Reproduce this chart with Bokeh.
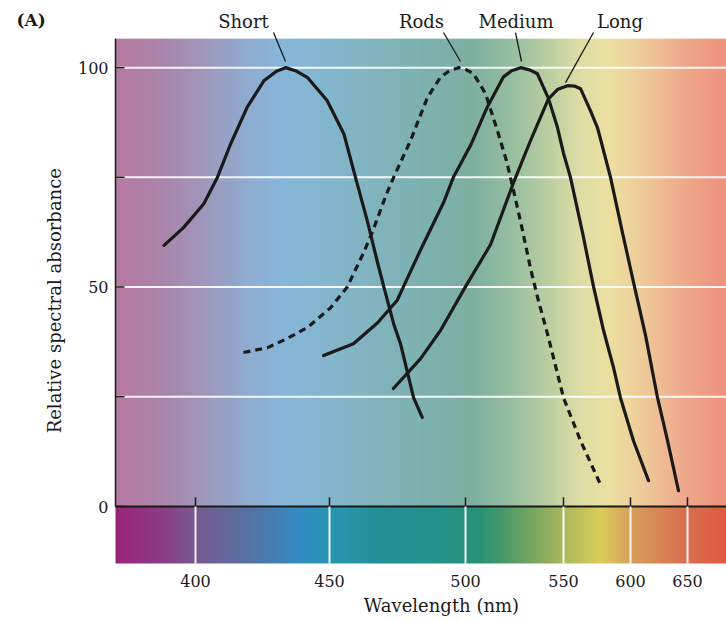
import numpy as np
from bokeh.plotting import figure
from bokeh.models import Range1d
from bokeh.core.properties import value
from bokeh.embed import file_html
from bokeh.resources import INLINE

# ---------------- data ----------------
WAVE_TICKS = [400, 450, 500, 550, 600, 650]
WAVE_TICK_LABELS = ["400", "450", "500", "550", "600", "650"]
Y_TICKS = [0, 25, 50, 75, 100]
Y_TICK_LABELS = ["0", "", "50", "", "100"]

SHORT_NM = [388.2, 395.6, 403.1, 408.1, 413.1, 419.3, 425.5, 430.2, 433.6, 437.3,
            441.7, 449.1, 455.3, 459.6, 463.9, 467.5, 470.0, 473.6, 476.1, 480.9, 484.1]
SHORT_ABS = [59.5, 63.6, 69.0, 74.9, 82.6, 91.0, 97.0, 99.2, 100.0, 99.3,
             97.8, 92.5, 84.9, 74.9, 65.1, 56.0, 50.0, 41.6, 37.1, 24.8, 20.3]

RODS_NM = [417.9, 426.9, 434.3, 441.8, 450.4, 456.6, 462.5, 465.8, 471.0, 473.5,
           479.8, 486.0, 490.8, 494.1, 497.4, 500.5, 504.1, 510.2, 516.3, 520.9,
           524.5, 529.1, 533.2, 537.2, 541.8, 545.9, 550.0, 562.7, 577.6]
RODS_ABS = [35.1, 36.2, 38.3, 40.8, 45.3, 50.1, 57.8, 62.6, 71.3, 74.9,
            83.4, 93.2, 97.8, 99.3, 100.0, 99.5, 98.6, 94.1, 85.6, 78.8,
            72.0, 62.9, 54.2, 46.9, 39.4, 32.1, 24.8, 15.0, 5.0]

MEDIUM_NM = [447.8, 458.8, 467.6, 474.9, 477.2, 483.5, 491.9, 495.6, 502.6, 511.2,
             519.4, 523.5, 528.1, 532.7, 536.7, 542.3, 546.9, 550.0, 555.2, 564.2,
             572.4, 579.9, 587.3, 592.5, 602.6, 615.8]
MEDIUM_ABS = [34.4, 37.1, 41.8, 47.0, 50.1, 58.5, 69.2, 75.1, 82.3, 91.1,
              97.9, 99.3, 100.0, 99.5, 98.6, 93.0, 86.4, 80.5, 75.0, 62.4,
              50.1, 40.1, 31.7, 24.8, 15.0, 5.9]

LONG_NM = [473.5, 483.5, 490.8, 500.0, 512.8, 524.5, 533.2, 542.3, 546.9, 553.0,
           558.2, 562.7, 570.1, 575.4, 585.1, 594.0, 603.5, 613.2, 623.7, 632.5, 642.1]
LONG_ABS = [26.9, 33.7, 40.1, 50.1, 59.7, 73.8, 83.4, 92.9, 95.0, 95.9,
            95.8, 95.2, 90.2, 86.3, 75.0, 62.4, 50.1, 39.0, 24.8, 15.0, 3.6]

CURVE_NAMES = ["Short", "Rods", "Medium", "Long"]
PANEL_TAG = "(A)"
X_TITLE = "Wavelength (nm)"
Y_TITLE = "Relative spectral absorbance"

# ---------------- layout / style ----------------
# the printed wavelength axis is not linear: display position of each wavelength
WARP_NM = [370, 400, 450, 500, 550, 600, 650, 684]
WARP_POS = [0, 80, 214, 350, 448, 515, 572, 611]


def to_pos(nm):
    return np.interp(np.asarray(nm, dtype=float), WARP_NM, WARP_POS)


# the frame covers the whole canvas (1 x unit = 1 px; 1 y unit = 4.39 px)
X_MIN, X_MAX = -115, 611
Y_MIN, Y_MAX = -25.97, 115.3
Y_BAR = -12.98              # bottom of the spectrum bar
Y_TOP_BG = 106.6            # top of the coloured background

FONT = "DejaVu Serif"
INK = "#1a1a1a"

TOP_STOPS_POS = [0, 45, 85, 125, 165, 205, 255, 305, 355, 395, 430, 465, 495, 525, 565, 611]
TOP_STOPS_RGB = [(182, 122, 162), (172, 132, 170), (160, 150, 186), (145, 170, 206),
                 (135, 182, 218), (132, 182, 208), (130, 180, 192), (125, 178, 176),
                 (125, 175, 160), (150, 190, 160), (185, 205, 160), (222, 222, 165),
                 (236, 224, 160), (238, 205, 155), (238, 172, 140), (238, 145, 125)]
BAR_STOPS_POS = [0, 45, 80, 135, 185, 214, 265, 325, 365, 405, 448, 485, 515, 572, 611]
BAR_STOPS_RGB = [(155, 35, 120), (140, 60, 130), (120, 90, 145), (85, 115, 165),
                 (50, 140, 195), (40, 150, 180), (35, 145, 150), (35, 145, 138),
                 (40, 145, 115), (100, 160, 100), (170, 185, 90), (220, 205, 90),
                 (215, 160, 90), (215, 110, 80), (225, 90, 65)]


def gradient(stop_pos, stop_rgb, n=X_MAX):
    img = np.zeros((2, n), dtype=np.uint32)
    view = img.view(dtype=np.uint8).reshape((2, n, 4))
    xs = np.arange(n) + 0.5
    for c in range(3):
        view[:, :, c] = np.interp(xs, stop_pos, [s[c] for s in stop_rgb]).astype(np.uint8)
    view[:, :, 3] = 255
    return img


p = figure(width=726, height=620, output_backend="svg", toolbar_location=None,
           x_range=Range1d(X_MIN, X_MAX), y_range=Range1d(Y_MIN, Y_MAX),
           min_border=0)
p.outline_line_color = None
p.background_fill_color = "white"
p.border_fill_color = "white"
p.xgrid.visible = False
p.ygrid.visible = False
p.xaxis.visible = False
p.yaxis.visible = False

# coloured backgrounds
p.image_rgba(image=[gradient(TOP_STOPS_POS, TOP_STOPS_RGB)], x=0, y=0,
             dw=X_MAX, dh=Y_TOP_BG, level="image")
p.image_rgba(image=[gradient(BAR_STOPS_POS, BAR_STOPS_RGB)], x=0, y=Y_BAR,
             dw=X_MAX, dh=-Y_BAR, level="image")

n_y = len(Y_TICKS)
# white horizontal grid lines
p.segment(x0=[0] * (n_y - 1), y0=Y_TICKS[1:], x1=[X_MAX] * (n_y - 1), y1=Y_TICKS[1:],
          line_color="white", line_width=2, line_alpha=0.9)

tick_pos = list(to_pos(WAVE_TICKS))
n_x = len(tick_pos)

# x axis: zero line, upward ticks, white separators in the spectrum bar, labels
p.segment(x0=[0], y0=[0], x1=[X_MAX], y1=[0], line_color=INK, line_width=2)
p.segment(x0=tick_pos, y0=[0] * n_x, x1=tick_pos, y1=[2.1] * n_x,
          line_color=INK, line_width=1.5)
p.segment(x0=tick_pos, y0=[Y_BAR] * n_x, x1=tick_pos, y1=[0] * n_x,
          line_color="white", line_width=2, line_alpha=0.9)
p.text(x=tick_pos, y=[-17.0] * n_x, text=WAVE_TICK_LABELS, text_align="center",
       text_baseline="middle", text_font=value(FONT), text_font_size=value("16px"),
       text_color=INK)
p.text(x=[326], y=[-22.6], text=[X_TITLE], text_align="center",
       text_baseline="middle", text_font=value(FONT), text_font_size=value("18px"),
       text_color=INK)

# y axis
p.segment(x0=[0], y0=[0], x1=[0], y1=[Y_TOP_BG], line_color=INK, line_width=1.5)
p.segment(x0=[0] * n_y, y0=Y_TICKS, x1=[9] * n_y, y1=Y_TICKS,
          line_color=INK, line_width=1.5)
lab_y = [t for t, s in zip(Y_TICKS, Y_TICK_LABELS) if s]
lab_s = [s for s in Y_TICK_LABELS if s]
p.text(x=[-7] * len(lab_y), y=lab_y, text=lab_s, text_align="right",
       text_baseline="middle", text_font=value(FONT), text_font_size=value("16px"),
       text_color=INK)
p.text(x=[-61], y=[46.9], text=[Y_TITLE], angle=np.pi / 2, text_align="center",
       text_baseline="middle", text_font=value(FONT), text_font_size=value("18px"),
       text_color=INK)

# curves
p.line(to_pos(SHORT_NM), SHORT_ABS, line_color=INK, line_width=3.2,
       line_join="round", line_cap="round")
p.line(to_pos(RODS_NM), RODS_ABS, line_color=INK, line_width=3.2,
       line_join="round", line_dash="7 5")
p.line(to_pos(MEDIUM_NM), MEDIUM_ABS, line_color=INK, line_width=3.2,
       line_join="round", line_cap="round")
p.line(to_pos(LONG_NM), LONG_ABS, line_color=INK, line_width=3.2,
       line_join="round", line_cap="round")

# curve labels with leader lines
LABEL_X = [128, 306, 400.5, 504.5]
LABEL_Y = 110.5
LEAD_X0 = [158, 328, 400, 478]
LEAD_Y0 = [108.0, 108.0, 108.0, 108.0]
LEAD_X1 = [170, 345, 406, 450]
LEAD_Y1 = [101.4, 101.4, 101.4, 96.6]
p.text(x=LABEL_X, y=[LABEL_Y] * len(LABEL_X), text=CURVE_NAMES, text_align="center",
       text_baseline="middle", text_font=value(FONT), text_font_size=value("18px"),
       text_color=INK)
p.segment(x0=LEAD_X0, y0=LEAD_Y0, x1=LEAD_X1, y1=LEAD_Y1, line_color=INK,
          line_width=1.3)

p.text(x=[-99], y=[110.9], text=[PANEL_TAG], text_align="left",
       text_baseline="middle", text_font=value(FONT), text_font_size=value("17px"),
       text_font_style="bold", text_color=INK)

open("out.html", "w").write(file_html(p, INLINE))
